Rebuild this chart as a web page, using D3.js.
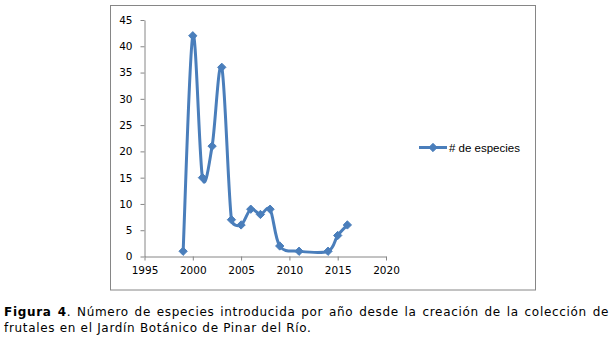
<!DOCTYPE html>
<html>
<head>
<meta charset="utf-8">
<script src="https://cdn.jsdelivr.net/npm/d3@7"></script>
<style>
  html, body { margin: 0; padding: 0; background: #fff; }
  svg { display: block; }
</style>
</head>
<body>
<svg id="chart" width="614" height="337"></svg>
<script>
// Species introduced per year in the fruit collection
const years   = [1999, 2000, 2001, 2002, 2003, 2004, 2005, 2006, 2007, 2008, 2009, 2011, 2014, 2015, 2016];
const species = [1, 42, 15, 21, 36, 7, 6, 9, 8, 9, 2, 1, 1, 4, 6];
const xTicks  = [1995, 2000, 2005, 2010, 2015, 2020];
const yTicks  = [0, 5, 10, 15, 20, 25, 30, 35, 40, 45];
const seriesName = "# de especies";
const captionBold = "Figura 4";
const captionLine1 = ". Número de especies introducida por año desde la creación de la colección de";
const captionLine2 = "frutales en el Jardín Botánico de Pinar del Río.";

const data = years.map((y, i) => ({ year: y, value: species[i] }));
const blue = "#4a7ebb";
const axisGray = "#868686";

const svg = d3.select("#chart");

// Chart frame
svg.append("rect")
  .attr("x", 110.5).attr("y", 5.5)
  .attr("width", 425).attr("height", 284.5)
  .attr("fill", "#fff").attr("stroke", axisGray).attr("stroke-width", 1);

const x = d3.scaleLinear().domain([1995, 2020]).range([144.5, 386]);
const y = d3.scaleLinear().domain([0, 45]).range([256.5, 20]);

// Axes
const yAxis = d3.axisLeft(y).tickValues(yTicks).tickSize(4).tickSizeOuter(0).tickPadding(8);
const xAxis = d3.axisBottom(x).tickValues(xTicks).tickFormat(d3.format("d")).tickSize(4).tickSizeOuter(0).tickPadding(6);

const gy = svg.append("g").attr("transform", "translate(144.5,0)").call(yAxis);
const gx = svg.append("g").attr("transform", "translate(0,256.5)").call(xAxis);

[gx, gy].forEach(g => {
  g.select(".domain").attr("stroke", axisGray);
  g.selectAll(".tick line").attr("stroke", axisGray);
  g.selectAll(".tick text")
    .attr("fill", "#000")
    .attr("font-family", "DejaVu Sans, Verdana, sans-serif")
    .attr("font-size", 10.5);
});

// Smoothed line: Bezier segments with tangents (next - prev)/6,
// each control arm limited to half of its segment length.
function smoothPath(pts) {
  const p = d3.path();
  if (!pts.length) return "";
  p.moveTo(pts[0][0], pts[0][1]);
  const arm = (from, a, b, seg) => {
    let dx = (b[0] - a[0]) / 6, dy = (b[1] - a[1]) / 6;
    const len = Math.hypot(dx, dy), cap = seg / 2;
    if (len > cap && len > 0) { dx *= cap / len; dy *= cap / len; }
    return [dx, dy];
  };
  for (let i = 0; i < pts.length - 1; i++) {
    const p0 = pts[Math.max(0, i - 1)], p1 = pts[i], p2 = pts[i + 1], p3 = pts[Math.min(pts.length - 1, i + 2)];
    const seg = Math.hypot(p2[0] - p1[0], p2[1] - p1[1]);
    const a1 = arm(p1, p0, p2, seg);
    const a2 = arm(p2, p1, p3, seg);
    p.bezierCurveTo(p1[0] + a1[0], p1[1] + a1[1], p2[0] - a2[0], p2[1] - a2[1], p2[0], p2[1]);
  }
  return p.toString();
}

svg.append("path")
  .attr("d", smoothPath(data.map(d => [x(d.year), y(d.value)])))
  .attr("fill", "none")
  .attr("stroke", blue)
  .attr("stroke-width", 3)
  .attr("stroke-linejoin", "round");

const diamond = d3.symbol().type(d3.symbolDiamond2).size(44);

svg.append("g").selectAll("path")
  .data(data)
  .join("path")
  .attr("d", diamond)
  .attr("transform", d => `translate(${x(d.year)},${y(d.value)})`)
  .attr("fill", blue)
  .attr("stroke", blue)
  .attr("stroke-width", 1);

// Legend
const lg = svg.append("g").attr("transform", "translate(419,147.5)");
lg.append("line").attr("x1", 0).attr("x2", 28).attr("y1", 0).attr("y2", 0)
  .attr("stroke", blue).attr("stroke-width", 3);
lg.append("path").attr("d", diamond).attr("transform", "translate(14,0)")
  .attr("fill", blue).attr("stroke", blue);
lg.append("text").attr("x", 30).attr("y", 4)
  .attr("font-family", "Liberation Sans, Arial, sans-serif")
  .attr("font-size", 11.5)
  .attr("fill", "#000")
  .text(seriesName);

// Caption: second line sets the letter spacing, first line is justified
const capFont = "DejaVu Sans, Verdana, sans-serif";
const capSize = 12;
const leftX = 4, rightX = 609, line2End = 311.5;

const t2 = svg.append("text")
  .attr("x", leftX).attr("y", 332)
  .attr("font-family", capFont).attr("font-size", capSize).attr("fill", "#000")
  .text(captionLine2);
const nat2 = t2.node().getComputedTextLength();
const ls = (line2End - leftX - nat2) / captionLine2.length;
t2.attr("letter-spacing", ls);

const t1 = svg.append("text")
  .attr("x", leftX).attr("y", 316)
  .attr("font-family", capFont).attr("font-size", capSize).attr("fill", "#000")
  .attr("letter-spacing", ls);
t1.append("tspan").attr("font-weight", "bold").text(captionBold);
t1.append("tspan").text(captionLine1);
const natural = t1.node().getComputedTextLength();
const fullText = captionBold + captionLine1;
const spaces = (fullText.match(/ /g) || []).length;
t1.attr("word-spacing", Math.max(0, (rightX - leftX - natural) / spaces));
</script>
</body>
</html>
